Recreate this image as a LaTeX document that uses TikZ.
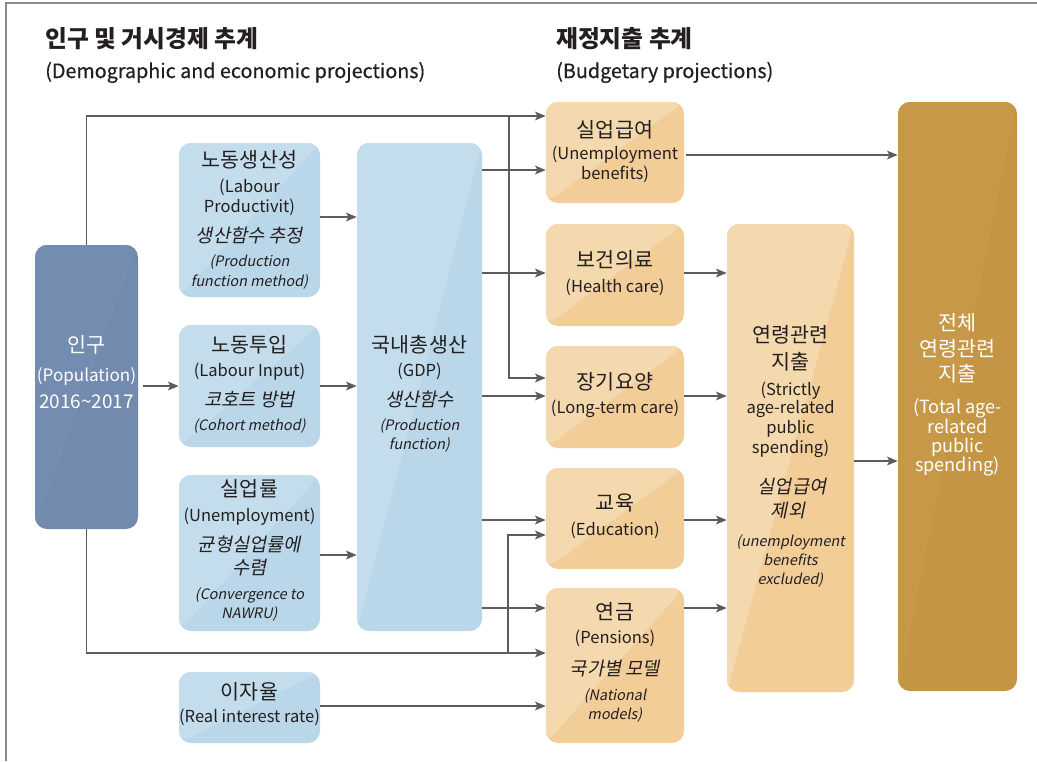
\documentclass[tikz,border=0pt]{standalone}
\usepackage{fontspec}
\setmainfont{Noto Sans CJK KR}
\newfontfamily\krit{Noto Sans CJK KR}[FakeSlant=0.2]
\newfontfamily\krsub{Noto Sans CJK KR}[FakeBold=0.6]
\usetikzlibrary{arrows.meta}
\definecolor{popc}{HTML}{718AAE}
\definecolor{popl}{HTML}{738CB0}
\definecolor{blu}{HTML}{BAD7EA}
\definecolor{blul}{HTML}{C4DDED}
\definecolor{org}{HTML}{F2CD98}
\definecolor{orgl}{HTML}{F4D8AE}
\definecolor{gold}{HTML}{C49545}
\definecolor{goldl}{HTML}{C69848}
\definecolor{ln}{HTML}{5C5C5C}
\definecolor{txt}{HTML}{231F20}
\definecolor{frame}{HTML}{8A8A8A}
\tikzset{
  sz/.style 2 args={minimum width=#1*0.75pt, minimum height=#2*0.75pt},
  bx/.style 2 args={rectangle, rounded corners=9pt, inner sep=0pt, fill=#1,
    path picture={\fill[#2] (path picture bounding box.south west) -- (path picture bounding box.north west) -- (path picture bounding box.north east) -- cycle;}},
  tl/.style={inner sep=0pt, text height=0.74em, text depth=0.06em, text=txt},
  kr/.style={tl, font=\fontsize{15.5pt}{17pt}\selectfont},
  en/.style={tl, font=\fontsize{12.4pt}{14pt}\selectfont},
  kit/.style={tl, font=\fontsize{14pt}{15pt}\krit},
  eit/.style={tl, font=\fontsize{10.8pt}{13pt}\krit},
  wh/.style={text=white},
  hd/.style={tl, anchor=west, font=\fontsize{17.8pt}{20pt}\selectfont\bfseries},
  sub/.style={tl, anchor=west, font=\fontsize{14.8pt}{16pt}\krsub},
  arr/.style={draw=ln, line width=1.1pt, -{Stealth[length=8pt, width=6.5pt, inset=1.8pt]}},
  ln/.style={draw=ln, line width=1.1pt},
}
\newcommand\tx[4]{\node[#3] (#1) at #2 {#4};}
\begin{document}
\begin{tikzpicture}[x=0.75pt, y=-0.75pt]
\useasboundingbox (0,0) rectangle (1037,761);
% frame
\draw[frame, line width=1.2pt] (6,761) -- (6,3) -- (1037,3);
% headings
\tx{h1}{(45,43)}{hd}{인구 및 거시경제 추계}
\tx{h1s}{(45,73.5)}{sub}{(Demographic and economic projections)}
\tx{h2}{(556,43)}{hd}{재정지출 추계}
\tx{h2s}{(556,73.5)}{sub}{(Budgetary projections)}
% boxes
\node[bx={popc}{popl}, sz={103}{284}] (pop) at (86.5,387) {};
\node[bx={blu}{blul}, sz={141}{154}] (lp) at (249.5,220) {};
\node[bx={blu}{blul}, sz={141}{122}] (li) at (249.5,386) {};
\node[bx={blu}{blul}, sz={141}{156}] (ur) at (249.5,553) {};
\node[bx={blu}{blul}, sz={141}{71}] (ir) at (249.5,707.5) {};
\node[bx={blu}{blul}, sz={125}{488}] (gdp) at (419.5,387) {};
\node[bx={org}{orgl}, sz={138}{101}] (ub) at (615,152.5) {};
\node[bx={org}{orgl}, sz={138}{102}] (hc) at (615,275) {};
\node[bx={org}{orgl}, sz={138}{102}] (ltc) at (615,397) {};
\node[bx={org}{orgl}, sz={138}{101}] (edu) at (615,518.5) {};
\node[bx={org}{orgl}, sz={138}{155}] (pen) at (615,665.5) {};
\node[bx={org}{orgl}, sz={127}{468}] (sar) at (790.5,458) {};
\node[bx={gold}{goldl}, sz={119}{589}] (tot) at (957.5,396.5) {};
% texts: population
\tx{pop1}{(86.5,348)}{kr,wh}{인구}
\tx{pop2}{(86.5,377)}{en,wh,font=\fontsize{12.8pt}{14pt}\selectfont}{(Population)}
\tx{pop3}{(86.5,404)}{en,wh,font=\fontsize{14.2pt}{16pt}\selectfont}{2016\textasciitilde 2017}
% labour productivity
\tx{lp1}{(249.5,163)}{kr}{노동생산성}
\tx{lp2}{(249.5,188)}{en}{(Labour}
\tx{lp3}{(249.5,208)}{en}{Productivit)}
\tx{lp4}{(249.5,238)}{kit}{생산함수 추정}
\tx{lp5}{(249.5,262)}{eit}{(Production}
\tx{lp6}{(249.5,282)}{eit}{function method)}
% labour input
\tx{li1}{(249.5,348)}{kr}{노동투입}
\tx{li2}{(249.5,372)}{en}{(Labour Input)}
\tx{li3}{(249.5,402)}{kit}{코호트 방법}
\tx{li4}{(249.5,426)}{eit}{(Cohort method)}
% unemployment
\tx{ur1}{(249.5,492)}{kr}{실업률}
\tx{ur2}{(249.5,517)}{en}{(Unemployment)}
\tx{ur3}{(249.5,547)}{kit}{균형실업률에}
\tx{ur4}{(249.5,570)}{kit}{수렴}
\tx{ur5}{(249.5,595)}{eit}{(Convergence to}
\tx{ur6}{(249.5,614)}{eit}{NAWRU)}
% interest
\tx{ir1}{(249.5,695)}{kr}{이자율}
\tx{ir2}{(249.5,718)}{en}{(Real interest rate)}
% gdp
\tx{g1}{(419.5,348)}{kr}{국내총생산}
\tx{g2}{(419.5,372)}{en}{(GDP)}
\tx{g3}{(419.5,402)}{kit}{생산함수}
\tx{g4}{(419.5,426)}{eit}{(Production}
\tx{g5}{(419.5,445)}{eit}{function)}
% orange boxes
\tx{ub1}{(615,133)}{kr}{실업급여}
\tx{ub2}{(615,155)}{en}{(Unemployment}
\tx{ub3}{(615,175)}{en}{benefits)}
\tx{hc1}{(615,263)}{kr}{보건의료}
\tx{hc2}{(615,288)}{en}{(Health care)}
\tx{lt1}{(615,385)}{kr}{장기요양}
\tx{lt2}{(615,409)}{en}{(Long-term care)}
\tx{ed1}{(615,506)}{kr}{교육}
\tx{ed2}{(615,531)}{en}{(Education)}
\tx{pe1}{(615,615)}{kr}{연금}
\tx{pe2}{(615,639)}{en}{(Pensions)}
\tx{pe3}{(615,671)}{kit}{국가별 모델}
\tx{pe4}{(615,696)}{eit}{(National}
\tx{pe5}{(615,715)}{eit}{models)}
% strictly age-related
\tx{s1}{(790.5,338)}{kr}{연령관련}
\tx{s2}{(790.5,365)}{kr}{지출}
\tx{s3}{(790.5,391)}{en}{(Strictly}
\tx{s4}{(790.5,409)}{en}{age-related}
\tx{s5}{(790.5,429)}{en}{public}
\tx{s6}{(790.5,449)}{en}{spending)}
\tx{s7}{(792,489)}{kit}{실업급여}
\tx{s8}{(788,513)}{kit}{제외}
\tx{s9}{(790.5,542)}{eit}{(unemployment}
\tx{s10}{(790.5,561)}{eit}{benefits}
\tx{s11}{(790.5,580)}{eit}{excluded)}
% total
\tx{t1}{(957.5,326)}{kr,wh}{전체}
\tx{t2}{(957.5,352)}{kr,wh}{연령관련}
\tx{t3}{(957.5,377)}{kr,wh}{지출}
\tx{t4}{(957.5,409)}{en,wh,font=\fontsize{13.6pt}{15pt}\selectfont}{(Total age-}
\tx{t5}{(957.5,429)}{en,wh,font=\fontsize{13.6pt}{15pt}\selectfont}{related}
\tx{t6}{(957.5,448)}{en,wh,font=\fontsize{13.6pt}{15pt}\selectfont}{public}
\tx{t7}{(957.5,467)}{en,wh,font=\fontsize{13.6pt}{15pt}\selectfont}{spending)}
% connectors
\coordinate (busTop) at (509,116);
\coordinate (busBot) at (508,653);
\draw[arr] (pop.north) |- (ub.west |- busTop);
\draw[arr] (busTop) |- (ltc.west |- 0,378);
\draw[arr] (pop.south) |- (pen.west |- busBot);
\draw[arr] (busBot) |- (edu.west |- 0,535);
\draw[arr] ([xshift=3.5pt]pop.east |- li.west) -- (li.west);
\draw[arr] (lp.east |- 0,217) -- (gdp.west |- 0,217);
\draw[arr] (li.east) -- (gdp.west |- li.east);
\draw[arr] (ur.east |- 0,555) -- (gdp.west |- 0,555);
\draw[arr] (gdp.east |- 0,170) -- (ub.west |- 0,170);
\draw[arr] (gdp.east |- 0,273) -- (hc.west |- 0,273);
\draw[arr] (gdp.east |- 0,396) -- (ltc.west |- 0,396);
\draw[arr] (gdp.east |- 0,520) -- (edu.west |- 0,520);
\draw[arr] (gdp.east |- 0,608) -- (pen.west |- 0,608);
\draw[arr] (ir.east |- 0,706) -- (pen.west |- 0,706);
\draw[arr] ([xshift=1.5pt]ub.east |- 0,155) -- (tot.west |- 0,155);
\draw[arr] (hc.east |- 0,273) -- (sar.west |- 0,273);
\draw[arr] (ltc.east |- 0,396) -- (sar.west |- 0,396);
\draw[arr] (edu.east |- 0,520) -- (sar.west |- 0,520);
\draw[arr] (pen.east |- 0,608) -- (sar.west |- 0,608);
\draw[arr] (sar.east |- 0,461) -- (tot.west |- 0,461);
\end{tikzpicture}
\end{document}
